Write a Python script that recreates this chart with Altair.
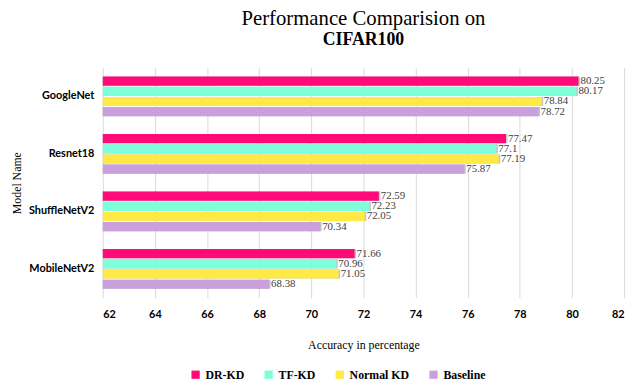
import altair as alt
import pandas as pd

models = ["GoogleNet", "Resnet18", "ShuffleNetV2", "MobileNetV2"]
series = ["DR-KD", "TF-KD", "Normal KD", "Baseline"]
colors = ["#FF0A78", "#7FFFD9", "#FFE945", "#C9A0DC"]
dr_kd = [80.25, 77.47, 72.59, 71.66]
tf_kd = [80.17, 77.1, 72.23, 70.96]
normal_kd = [78.84, 77.19, 72.05, 71.05]
baseline = [78.72, 75.87, 70.34, 68.38]
x_ticks = [62, 64, 66, 68, 70, 72, 74, 76, 78, 80, 82]

rows = []
for name, vals in zip(series, [dr_kd, tf_kd, normal_kd, baseline]):
    for m, v in zip(models, vals):
        rows.append({"model": m, "series": name, "value": v})
df = pd.DataFrame(rows)

serif = "Liberation Serif"
sans = "Lato"

y = alt.Y("model:N", sort=models,
          scale=alt.Scale(paddingInner=0.31, paddingOuter=0.155),
          axis=alt.Axis(title="Model Name", labelFont=sans, labelFontWeight="bold",
                        labelFontSize=11, labelColor="#000000", labelPadding=9,
                        ticks=False, domain=False, titleFont=serif, titleFontSize=12,
                        titleFontWeight="normal", titleColor="#000000",
                        titleAngle=270, titleX=-87, titleY=116.5,
                        titleAlign="center", titleBaseline="middle"))
yoff = alt.YOffset("series:N", sort=series, scale=alt.Scale(paddingInner=0.1))
x = alt.X("value:Q", scale=alt.Scale(domain=[62, 82], zero=False, nice=False),
          axis=alt.Axis(values=x_ticks, title="Accuracy in percentage",
                        labelFont=sans, labelFontWeight="bold", labelFontSize=11,
                        labelColor="#000000", labelPadding=11, ticks=False, domain=False,
                        grid=True, gridColor="#D9D9D9", titleFont=serif, titleFontSize=12,
                        titleFontWeight="normal", titleColor="#000000", titlePadding=20))

base = alt.Chart(df)

shadow = base.mark_bar(color="#7F7F7F", opacity=0.45, xOffset=1.5, yOffset=1.5).encode(
    y=y, yOffset=yoff, x=x, x2=alt.datum(62))

bars = base.mark_bar().encode(
    y=y, yOffset=yoff, x=x, x2=alt.datum(62),
    color=alt.Color("series:N", sort=series,
                    scale=alt.Scale(domain=series, range=colors),
                    legend=alt.Legend(title=None, orient="none", direction="horizontal",
                                      legendX=88, legendY=305, symbolType="square",
                                      symbolSize=70, symbolStrokeWidth=0,
                                      labelFont=serif, labelFontWeight="bold",
                                      labelFontSize=12, labelColor="#000000",
                                      columnPadding=18)))

labels = base.mark_text(align="left", dx=2, font=serif, fontSize=11,
                        fontWeight="normal", color="#404040").encode(
    y=y, yOffset=yoff, x=x, text=alt.Text("value:Q"))

chart = alt.layer(shadow, bars, labels).properties(
    width=528, height=233,
    title=alt.TitleParams(text="Performance Comparision on", subtitle="CIFAR100",
                          font=serif, fontSize=21, fontWeight="normal", color="#000000",
                          subtitleFont=serif, subtitleFontSize=18,
                          subtitleFontWeight="bold", subtitleColor="#000000",
                          subtitlePadding=2, anchor="middle", offset=19),
    autosize=alt.AutoSizeParams(type="none"),
    padding={"left": 96, "top": 58, "right": 8, "bottom": 86},
).configure_view(stroke=None)

chart.save("out.html", embed_options={"renderer": "svg", "actions": False})
